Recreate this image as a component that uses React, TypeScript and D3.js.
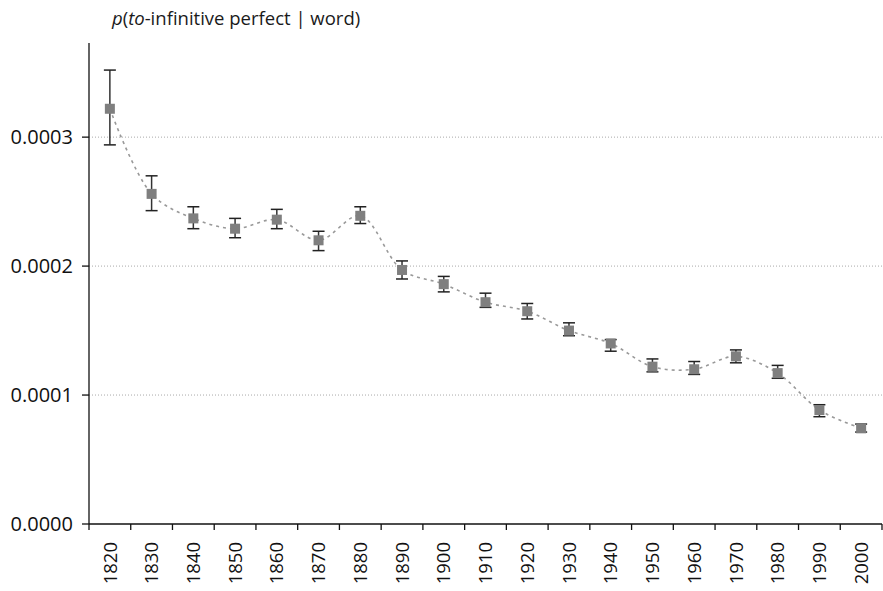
import * as d3 from "d3"

const years = ["1820", "1830", "1840", "1850", "1860", "1870", "1880", "1890", "1900", "1910", "1920", "1930", "1940", "1950", "1960", "1970", "1980", "1990", "2000"]
const values = [0.000322, 0.000256, 0.000237, 0.000229, 0.000236, 0.00022, 0.000239, 0.000197, 0.000186, 0.000172, 0.000165, 0.00015, 0.00014, 0.000122, 0.00012, 0.00013, 0.000117, 0.0000884, 0.0000742]
const upper = [0.000352, 0.00027, 0.000246, 0.000237, 0.000244, 0.000227, 0.000246, 0.000204, 0.000192, 0.000179, 0.000171, 0.000156, 0.000143, 0.000128, 0.000126, 0.000135, 0.000123, 0.0000925, 0.0000775]
const lower = [0.000294, 0.000243, 0.000229, 0.000222, 0.000229, 0.000212, 0.000233, 0.00019, 0.00018, 0.000168, 0.000159, 0.000146, 0.000134, 0.000118, 0.000116, 0.000125, 0.000113, 0.0000832, 0.0000713]
const yTicks = [0, 0.0001, 0.0002, 0.0003]

const W = 883
const H = 591
const margin = { left: 89, right: 1, top: 43, bottom: 67 }
const font = "'Open Sans', sans-serif"

export default function App() {
  const x = d3.scaleBand().domain(years).range([margin.left, W - margin.right])
  const y = d3.scaleLinear().domain([0, 0.000373]).range([H - margin.bottom, margin.top])
  const cx = (i: number) => (x(years[i]) || 0) + x.bandwidth() / 2

  const line = d3
    .line<number>()
    .x((_, i) => cx(i))
    .y((d) => y(d))
    .curve(d3.curveCatmullRom.alpha(0.5))

  const boundaries = [...years.map((yr) => x(yr) || 0), x.range()[1]]
  const y0 = y(0)

  return (
    <div style={{ position: "absolute", left: 0, top: 0 }}>
      <svg width={W} height={H} style={{ display: "block", background: "#fff" }} fontFamily={font}>
        <text x={112} y={25} fontSize={18.5} fill="#1a1a1a">
          <tspan fontStyle="italic">p</tspan>(<tspan fontStyle="italic">to</tspan>-infinitive perfect | word)
        </text>

        {yTicks.slice(1).map((t) => (
          <line key={t} x1={margin.left} x2={W} y1={y(t)} y2={y(t)} stroke="#aaa" strokeWidth={1} strokeDasharray="1,2" />
        ))}

        <line x1={margin.left} x2={margin.left} y1={margin.top} y2={y0} stroke="#111" strokeWidth={1.3} />
        {yTicks.map((t) => (
          <g key={t}>
            <line x1={margin.left - 7} x2={margin.left} y1={y(t)} y2={y(t)} stroke="#111" strokeWidth={1.3} />
            <text x={73} y={y(t)} dy="0.36em" textAnchor="end" fontSize={20} fill="#111">
              {t.toFixed(4)}
            </text>
          </g>
        ))}

        <line x1={margin.left} x2={x.range()[1]} y1={y0} y2={y0} stroke="#111" strokeWidth={1.3} />
        {boundaries.map((b, i) => (
          <line key={i} x1={b} x2={b} y1={y0} y2={y0 + 6} stroke="#111" strokeWidth={1.3} />
        ))}
        {years.map((yr, i) => (
          <text
            key={yr}
            transform={`translate(${cx(i)},${y0 + 18}) rotate(-90)`}
            dy="0.36em"
            textAnchor="end"
            fontSize={18.5}
            fill="#111"
          >
            {yr}
          </text>
        ))}

        <path d={line(values) || ""} fill="none" stroke="#999" strokeWidth={1.6} strokeDasharray="3,4" />

        {values.map((v, i) => (
          <g key={i}>
            <line x1={cx(i)} x2={cx(i)} y1={y(upper[i])} y2={y(lower[i])} stroke="#333" strokeWidth={1.5} />
            <line x1={cx(i) - 6} x2={cx(i) + 6} y1={y(upper[i])} y2={y(upper[i])} stroke="#222" strokeWidth={1.5} />
            <line x1={cx(i) - 6} x2={cx(i) + 6} y1={y(lower[i])} y2={y(lower[i])} stroke="#222" strokeWidth={1.5} />
            <rect x={cx(i) - 5} y={y(v) - 5} width={10} height={10} fill="#7f7f7f" />
          </g>
        ))}
      </svg>
    </div>
  )
}
